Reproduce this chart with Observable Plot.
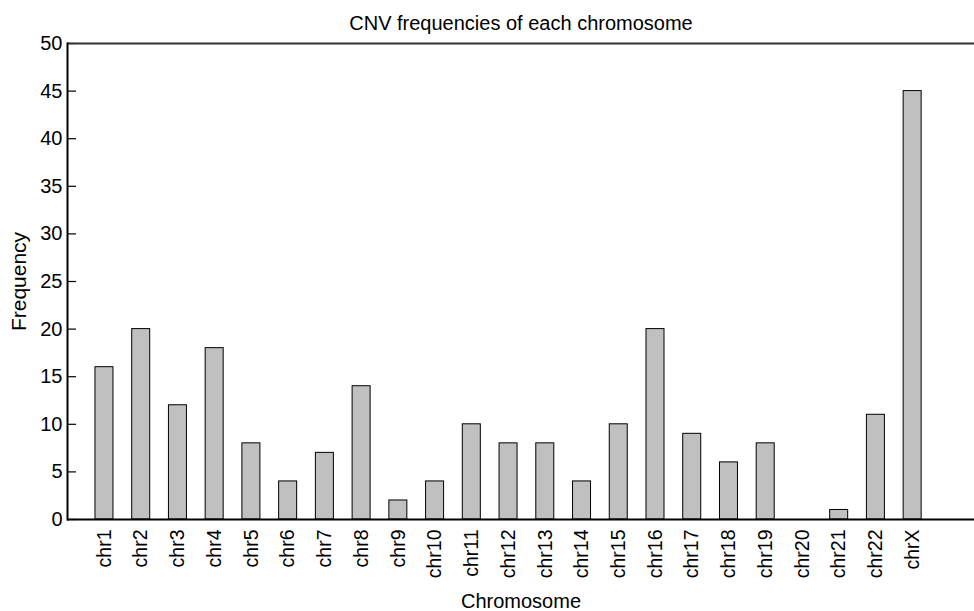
<!DOCTYPE html>
<html>
<head>
<meta charset="utf-8">
<script src="https://cdn.jsdelivr.net/npm/d3@7"></script>
<script src="https://cdn.jsdelivr.net/npm/@observablehq/plot@0.6"></script>
<style>
  html, body { margin: 0; padding: 0; background: #fff; }
  svg { display: block; }
</style>
</head>
<body>
<div id="chart"></div>
<script>
const chromosomes = ["chr1","chr2","chr3","chr4","chr5","chr6","chr7","chr8","chr9","chr10","chr11","chr12","chr13","chr14","chr15","chr16","chr17","chr18","chr19","chr20","chr21","chr22","chrX"];
const frequencies = [16,20,12,18,8,4,7,14,2,4,10,8,8,4,10,20,9,6,8,0,1,11,45];
const yTicks = [0,5,10,15,20,25,30,35,40,45,50];
const title = "CNV frequencies of each chromosome";
const xLabel = "Chromosome";
const yLabel = "Frequency";

const data = chromosomes.map((c, i) => ({chromosome: c, frequency: frequencies[i]}));

const chart = Plot.plot({
  width: 974,
  height: 611,
  marginTop: 43,
  marginBottom: 92,
  marginLeft: 67,
  marginRight: 0,
  style: {fontFamily: "'Liberation Sans', Arial, sans-serif", fontSize: "19px", color: "#000", background: "#fff"},
  x: {type: "band", domain: chromosomes, paddingInner: 0.51, paddingOuter: 1.1, align: 0.346, round: false},
  y: {domain: [0, 50]},
  marks: [
    Plot.barY(data, {x: "chromosome", y: "frequency", fill: "#c0c0c0", stroke: "#000", strokeWidth: 1}),
    Plot.tickY(yTicks, {y: d => d, stroke: "#000", strokeWidth: 1.2, insetRight: 974 - 67 - 9}),
    Plot.ruleY([0], {stroke: "#000", strokeWidth: 2}),
    Plot.ruleY([50], {stroke: "#333", strokeWidth: 2}),
    Plot.frame({anchor: "left", stroke: "#000", strokeWidth: 2}),
    Plot.axisY({ticks: yTicks, tickSize: 0, tickPadding: 5, fontSize: "20px", label: null}),
    Plot.axisX({tickRotate: -90, tickSize: 0, tickPadding: 10, fontSize: "19.5px", label: null}),
    Plot.text([yLabel], {frameAnchor: "left", dx: -48, rotate: -90, textAnchor: "middle", fontSize: 21, fill: "#000"}),
    Plot.text([xLabel], {frameAnchor: "bottom", dy: 88, fontSize: 20, fill: "#000"}),
    Plot.text([title], {frameAnchor: "top", dy: -28, fontSize: 20, fill: "#000"})
  ]
});
document.getElementById("chart").appendChild(chart);
</script>
</body>
</html>
